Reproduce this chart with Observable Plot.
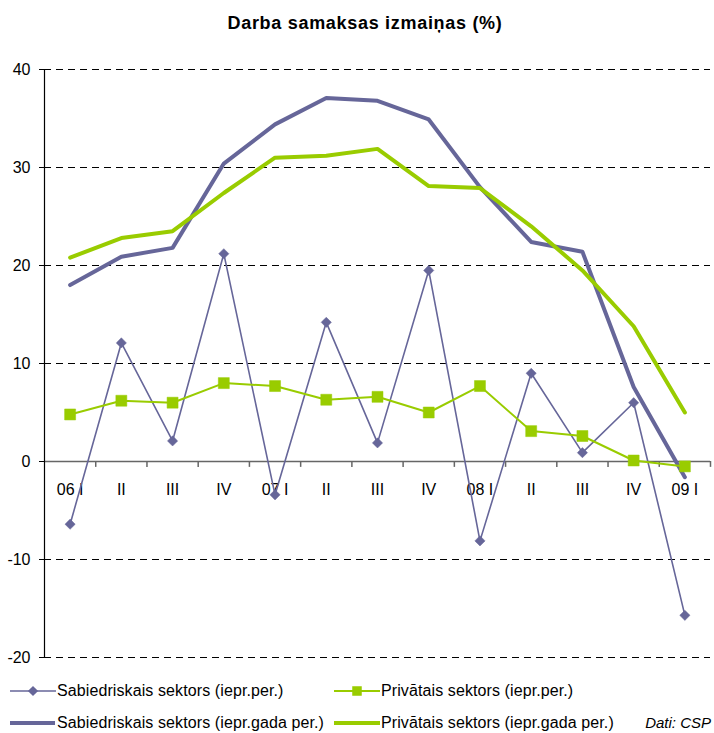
<!DOCTYPE html>
<html>
<head>
<meta charset="utf-8">
<script src="https://cdn.jsdelivr.net/npm/d3@7"></script>
<script src="https://cdn.jsdelivr.net/npm/@observablehq/plot@0.6"></script>
<style>
  body { margin: 0; background: #fff; font-family: "Liberation Sans", Arial, sans-serif; }
  #wrap { position: relative; width: 714px; height: 733px; overflow: hidden; }
  #title { position: absolute; left: 16px; top: 0; width: 698px; height: 45px; text-align: center;
           font-weight: bold; font-size: 18px; line-height: 46px; letter-spacing: 0.7px; }
  #chart { position: absolute; left: 0; top: 45px; }
  .leg { position: absolute; font-size: 16px; white-space: nowrap; line-height: 20px; letter-spacing: 0.1px; }
  .src { position: absolute; right: 3px; font-size: 15px; font-style: italic; white-space: nowrap; line-height: 20px; }
  .sw { position: absolute; }
</style>
</head>
<body>
<div id="wrap">
  <div id="title">Darba samaksas izmaiņas (%)</div>
  <div id="chart"></div>
  <div id="legend"></div>
</div>
<script>
const quarters = ["06 I","II","III","IV","07 I","II","III","IV","08 I","II","III","IV","09 I"];
const publicQoQ  = [-6.4, 12.1, 2.1, 21.2, -3.4, 14.2, 1.9, 19.5, -8.1, 9.0, 0.9, 6.0, -15.7];
const privateQoQ = [4.8, 6.2, 6.0, 8.0, 7.7, 6.3, 6.6, 5.0, 7.7, 3.1, 2.6, 0.1, -0.5];
const publicYoY  = [18.0, 20.9, 21.8, 30.4, 34.4, 37.1, 36.8, 34.9, 28.0, 22.4, 21.4, 7.6, -1.6];
const privateYoY = [20.8, 22.8, 23.5, 27.4, 31.0, 31.2, 31.9, 28.1, 27.9, 24.0, 19.5, 13.8, 5.0];
const yTicks = [-20, -10, 0, 10, 20, 30, 40];
const seriesNames = [
  "Sabiedriskais sektors (iepr.per.)",
  "Privātais sektors (iepr.per.)",
  "Sabiedriskais sektors (iepr.gada per.)",
  "Privātais sektors (iepr.gada per.)"
];
const source = "Dati: CSP";

const PURPLE = "#666699";
const GREEN = "#99cc00";

const tbl = arr => arr.map((v, i) => ({i, v}));
const boundaries = d3.range(0.5, quarters.length, 1);

const chart = Plot.plot({
  width: 714,
  height: 630,
  marginLeft: 44,
  marginRight: 4,
  marginTop: 24,
  marginBottom: 18,
  style: {fontFamily: "'Liberation Sans', Arial, sans-serif", fontSize: "16px", color: "#000", background: "#fff"},
  x: {domain: [-0.5, quarters.length - 0.5], axis: null},
  y: {domain: [-20, 40], axis: null},
  marks: [
    Plot.ruleY(yTicks.filter(d => d !== 0), {y: d => d, stroke: "#000", strokeWidth: 1, strokeDasharray: "7,5"}),
    Plot.ruleY([0], {stroke: "#666", strokeWidth: 1.5}),
    Plot.ruleX(boundaries, {x: d => d, y1: 0, y2: -0.6, stroke: "#666", strokeWidth: 1.5}),
    Plot.ruleX([-0.5], {y1: -20, y2: 40, stroke: "#000", strokeWidth: 1.2}),
    Plot.axisY({ticks: yTicks, tickSize: 5, tickPadding: 9, fontSize: 16, stroke: "#000", label: null, tickFormat: d => String(d)}),
    Plot.text(quarters, {x: (d, i) => i, y: () => 0, text: d => d, dy: 28, fontSize: 16, fill: "#000"}),
    Plot.line(tbl(publicYoY), {x: "i", y: "v", stroke: PURPLE, strokeWidth: 4}),
    Plot.line(tbl(privateYoY), {x: "i", y: "v", stroke: GREEN, strokeWidth: 4}),
    Plot.line(tbl(publicQoQ), {x: "i", y: "v", stroke: PURPLE, strokeWidth: 1.6}),
    Plot.dot(tbl(publicQoQ), {x: "i", y: "v", symbol: "diamond2", r: 4.6, fill: PURPLE, stroke: PURPLE, strokeWidth: 0.5}),
    Plot.line(tbl(privateQoQ), {x: "i", y: "v", stroke: GREEN, strokeWidth: 2}),
    Plot.dot(tbl(privateQoQ), {x: "i", y: "v", symbol: "square", r: 6.2, fill: GREEN, stroke: GREEN, strokeWidth: 0.5})
  ]
});
document.getElementById("chart").appendChild(chart);

// Legend (HTML + tiny inline SVG swatches)
const wrap = document.getElementById("wrap");
function swatch(x, cy, w, color, lw, marker) {
  const ns = "http://www.w3.org/2000/svg";
  const s = document.createElementNS(ns, "svg");
  s.setAttribute("width", w); s.setAttribute("height", 16);
  s.setAttribute("class", "sw");
  s.style.left = x + "px"; s.style.top = (cy - 8) + "px";
  const l = document.createElementNS(ns, "line");
  l.setAttribute("x1", 0); l.setAttribute("x2", w); l.setAttribute("y1", 8); l.setAttribute("y2", 8);
  l.setAttribute("stroke", color); l.setAttribute("stroke-width", lw);
  s.appendChild(l);
  if (marker) {
    const sym = marker === "diamond" ? d3.symbolDiamond2 : d3.symbolSquare;
    const size = marker === "diamond" ? Math.PI * 4.6 * 4.6 : Math.PI * 6.2 * 6.2 * 0.75;
    const p = document.createElementNS(ns, "path");
    p.setAttribute("d", d3.symbol(sym, size)());
    p.setAttribute("transform", `translate(${w / 2},8)`);
    p.setAttribute("fill", color);
    s.appendChild(p);
  }
  wrap.appendChild(s);
}
function label(x, cy, text) {
  const d = document.createElement("div");
  d.className = "leg";
  d.textContent = text;
  d.style.left = x + "px";
  d.style.top = (cy - 10) + "px";
  wrap.appendChild(d);
}
swatch(10, 691, 46, PURPLE, 1.6, "diamond");
label(57, 691, seriesNames[0]);
swatch(334, 691, 46, GREEN, 2, "square");
label(381, 691, seriesNames[1]);
swatch(10, 723, 45, PURPLE, 4, null);
label(57, 723, seriesNames[2]);
swatch(334, 723, 46, GREEN, 4, null);
label(381, 723, seriesNames[3]);
const src = document.createElement("div");
src.className = "src";
src.textContent = source;
src.style.top = (723 - 10) + "px";
wrap.appendChild(src);
</script>
</body>
</html>
